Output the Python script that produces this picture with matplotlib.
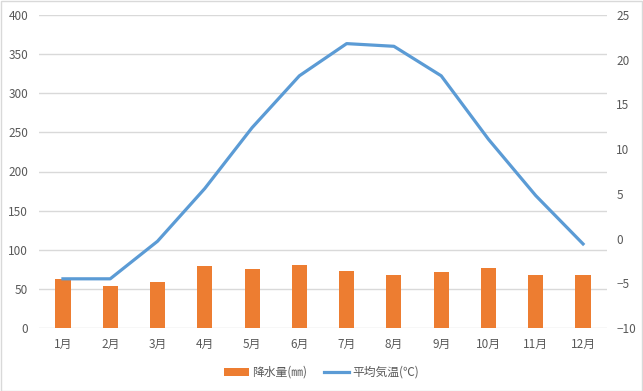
import matplotlib
matplotlib.use("Agg")
import matplotlib.pyplot as plt
from matplotlib.patches import Rectangle
from matplotlib.lines import Line2D
from matplotlib.patches import Patch

plt.rcParams['font.family'] = ['Noto Sans CJK JP', 'DejaVu Sans']

months = ['1月', '2月', '3月', '4月', '5月', '6月', '7月', '8月', '9月', '10月', '11月', '12月']
precip = [63, 54, 59, 79, 76, 81, 73, 68, 72, 77, 68, 68]
temp = [-4.5, -4.5, -0.3, 5.6, 12.4, 18.2, 21.8, 21.5, 18.2, 11.1, 4.8, -0.6]
left_ticks = [0, 50, 100, 150, 200, 250, 300, 350, 400]
right_ticks = [-10, -5, 0, 5, 10, 15, 20, 25]
legend_labels = ['降水量(㎜)', '平均気温(℃)']

W, H = 643, 391
fig = plt.figure(figsize=(W / 100, H / 100), dpi=100)
fig.patches.append(Rectangle((0.5 / W, 0.5 / H), 1 - 1.5 / W, 1 - 1.5 / H, transform=fig.transFigure,
                             fill=False, edgecolor='#d9d9d9', linewidth=1))

ax = fig.add_axes([39.3 / W, 1 - 328 / H, (606.7 - 39.3) / W, (328 - 15) / H])
x = list(range(len(months)))
ax.bar(x, precip, width=0.32, color='#ED7D31', zorder=3)
ax.set_ylim(0, 400)
ax.set_xlim(-0.5, len(months) - 0.5)
ax.set_yticks(left_ticks)
ax.set_xticks(x)
ax.set_xticklabels(months)
ax.grid(axis='y', color='#d9d9d9', linewidth=1, zorder=0)
for s in ax.spines.values():
    s.set_visible(False)
ax.tick_params(axis='both', length=0, labelsize=8.5, colors='#595959')
ax.tick_params(axis='x', pad=7)
ax.tick_params(axis='y', pad=8)

ax2 = ax.twinx()
ax2.plot(x, temp, color='#5B9BD5', linewidth=2.3, zorder=4, solid_joinstyle='round')
ax2.set_ylim(-10, 25)
ax2.set_yticks(right_ticks)
for s in ax2.spines.values():
    s.set_visible(False)
ax2.tick_params(axis='y', length=0, labelsize=8.5, colors='#595959', pad=7)

handles = [Patch(facecolor='#ED7D31', edgecolor='none'),
           Line2D([0], [0], color='#5B9BD5', linewidth=2.3)]
fig.legend(handles, legend_labels, loc='center', bbox_to_anchor=(0.5, 1 - 372.5 / H), ncol=2,
           frameon=False, fontsize=8.5, labelcolor='#595959', handlelength=2.1, handleheight=0.6,
           columnspacing=1.5, handletextpad=0.25)

fig.savefig('out.png', dpi=100)
